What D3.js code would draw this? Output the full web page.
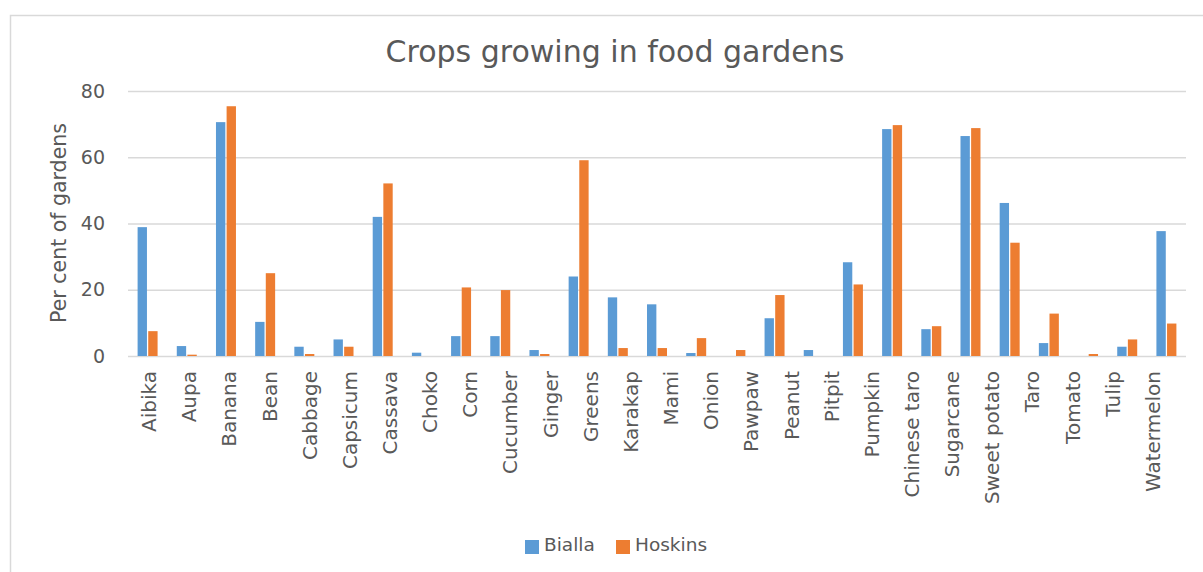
<!DOCTYPE html>
<html>
<head>
<meta charset="utf-8">
<script src="https://cdn.jsdelivr.net/npm/d3@7"></script>
<style>
  body { margin: 0; background: #fff; }
  svg text { font-family: "DejaVu Sans", "Open Sans", sans-serif; fill: #595959; }
</style>
</head>
<body>
<svg id="graph" width="1203" height="572"></svg>
<script>
// tick labels along the bottom (26 of them in the picture)
var crops = ['Aibika', 'Aupa', 'Banana', 'Bean', 'Cabbage', 'Capsicum', 'Cassava', 'Choko',
  'Corn', 'Cucumber', 'Ginger', 'Greens', 'Karakap', 'Mami', 'Onion', 'Pawpaw', 'Peanut',
  'Pitpit', 'Pumpkin', 'Chinese taro', 'Sugarcane', 'Sweet potato', 'Taro', 'Tomato',
  'Tulip', 'Watermelon'];

// bar pairs as drawn (27 groups in the picture)
var bialla = [38.9, 3.0, 70.6, 10.3, 2.8, 5.0, 42.0, 1.0, 6.0, 6.0, 1.8, 24.0, 17.7, 15.6,
  0.9, 0, 11.4, 1.8, 28.3, 68.5, 8.1, 66.4, 46.2, 3.9, 0, 2.8, 37.7];
var hoskins = [7.5, 0.4, 75.4, 25.0, 0.6, 2.8, 52.1, 0, 20.7, 19.9, 0.6, 59.1, 2.4, 2.4,
  5.4, 1.8, 18.4, 0, 21.6, 69.7, 9.0, 68.8, 34.2, 12.8, 0.6, 5.0, 9.8];

var seriesNames = ['Bialla', 'Hoskins'];
var yTicks = [0, 20, 40, 60, 80];

chartFunctions = {
  WIDTH: 1203,
  HEIGHT: 572,
  MARGINS: {
    top: 91,
    right: 17,
    bottom: 216,
    left: 128
  },
  COLORS: ['#5B9BD5', '#ED7D31'],
  GRID: '#D9D9D9',

  init: function () {
    var vis = d3.select('#graph');

    vis.append('rect')
      .attr('width', chartFunctions.WIDTH)
      .attr('height', chartFunctions.HEIGHT)
      .attr('fill', '#fff');

    // chart area border
    vis.append('rect')
      .attr('x', 10.5)
      .attr('y', 15.5)
      .attr('width', 1250)
      .attr('height', 600)
      .attr('fill', 'none')
      .attr('stroke', chartFunctions.GRID)
      .attr('stroke-width', 1.5);

    vis.append('text')
      .attr('x', 615)
      .attr('y', 62)
      .attr('text-anchor', 'middle')
      .style('font-size', '30px')
      .text('Crops growing in food gardens');

    chartFunctions.drawAxes(vis);
    chartFunctions.drawBars(vis);
    chartFunctions.drawLegend(vis);
  },

  drawAxes: function (vis) {
    var m = chartFunctions.MARGINS;
    var plotW = chartFunctions.WIDTH - m.left - m.right;

    chartFunctions.yRange = d3.scaleLinear()
      .domain([0, 80])
      .range([chartFunctions.HEIGHT - m.bottom, m.top]);

    var yAxis = d3.axisLeft(chartFunctions.yRange)
      .tickValues(yTicks)
      .tickSize(-plotW)
      .tickPadding(23);

    var gy = vis.append('g')
      .attr('class', 'y axis')
      .attr('transform', 'translate(' + m.left + ',0)')
      .call(yAxis);
    gy.select('.domain').remove();
    gy.selectAll('line')
      .attr('stroke', chartFunctions.GRID)
      .attr('stroke-width', 1.4);
    gy.selectAll('text')
      .style('font-size', '19px')
      .attr('fill', '#595959');

    vis.append('text')
      .attr('transform', 'translate(66,223) rotate(-90)')
      .attr('text-anchor', 'middle')
      .style('font-size', '20.5px')
      .text('Per cent of gardens');

    // the labels in the picture sit on a slightly tighter spacing than the bars
    var labelRange = d3.scaleBand()
      .domain(crops)
      .range([m.left + 1, m.left + 1045]);

    var xAxis = d3.axisBottom(labelRange).tickSize(0);

    var gx = vis.append('g')
      .attr('class', 'x axis')
      .attr('transform', 'translate(0,' + (chartFunctions.HEIGHT - m.bottom) + ')')
      .call(xAxis);
    gx.select('.domain').remove();
    gx.selectAll('text')
      .attr('transform', 'rotate(-90)')
      .attr('x', -15)
      .attr('y', 0)
      .attr('dy', '0.35em')
      .style('text-anchor', 'end')
      .style('font-size', '20px')
      .attr('fill', '#595959');
  },

  drawBars: function (vis) {
    var m = chartFunctions.MARGINS;
    var yRange = chartFunctions.yRange;

    var xRange = d3.scaleBand()
      .domain(d3.range(bialla.length))
      .range([m.left, chartFunctions.WIDTH - m.right])
      .paddingInner(0.49)
      .paddingOuter(0.245);

    var sub = d3.scaleBand()
      .domain([0, 1])
      .range([0, xRange.bandwidth()])
      .paddingInner(0.12);

    [bialla, hoskins].forEach(function (values, s) {
      vis.append('g')
        .selectAll('rect')
        .data(values)
        .enter()
        .append('rect')
        .attr('x', function (d, i) { return xRange(i) + sub(s); })
        .attr('width', sub.bandwidth())
        .attr('y', function (d) { return yRange(d); })
        .attr('height', function (d) { return yRange(0) - yRange(d); })
        .attr('fill', chartFunctions.COLORS[s]);
    });
  },

  drawLegend: function (vis) {
    var legend = vis.append('g')
      .attr('transform', 'translate(525,540)');

    var item = legend.selectAll('g')
      .data(seriesNames)
      .enter()
      .append('g')
      .attr('transform', function (d, i) { return 'translate(' + (i * 91) + ',0)'; });

    item.append('rect')
      .attr('width', 14)
      .attr('height', 14)
      .attr('fill', function (d, i) { return chartFunctions.COLORS[i]; });

    item.append('text')
      .attr('x', 19)
      .attr('y', 11)
      .style('font-size', '18.5px')
      .text(function (d) { return d; });
  }
};

chartFunctions.init();
</script>
</body>
</html>
